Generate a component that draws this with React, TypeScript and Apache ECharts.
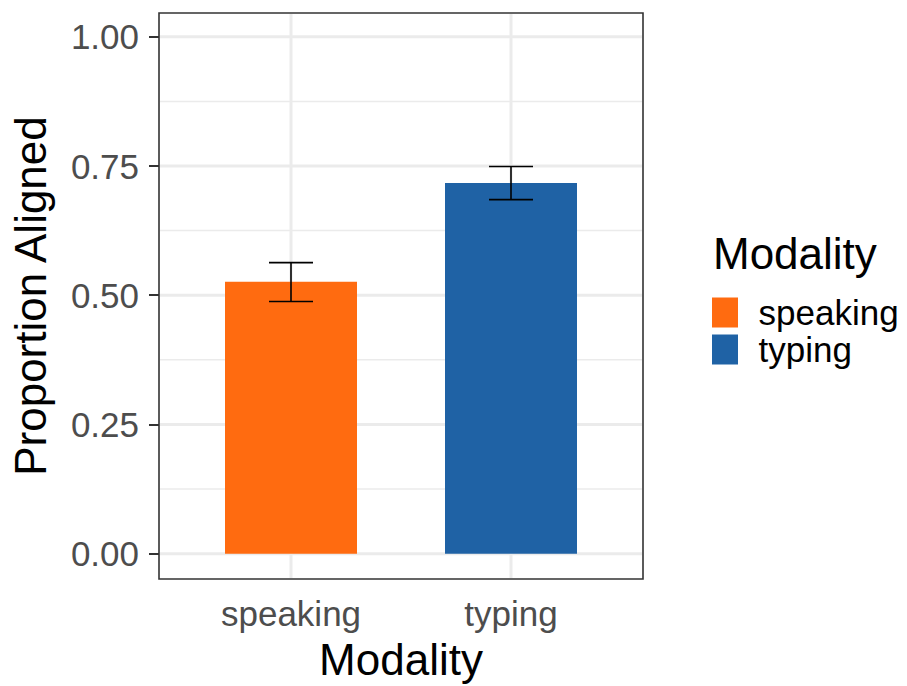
import React, { useEffect, useRef } from "react";
import * as echarts from "echarts";

const categories = ["speaking", "typing"];
const proportions = [0.526, 0.717];
const errLow = [0.488, 0.685];
const errHigh = [0.563, 0.749];
const barColors = ["#FF6B10", "#1F62A5"];
const yTicks = [0, 0.25, 0.5, 0.75, 1];
const yMinor = [0.125, 0.375, 0.625, 0.875];
const xPositions = [1, 2];

const FONT = "'Liberation Sans', Arial, Helvetica, sans-serif";

export default function App() {
  const ref = useRef<HTMLDivElement>(null);
  useEffect(() => {
    const chart = echarts.init(ref.current!, null, { renderer: "svg" });
    const gridData: number[][] = [
      ...yTicks.map((v) => [v, 1, 0]),
      ...yMinor.map((v) => [v, 0, 0]),
      ...xPositions.map((v) => [v, 1, 1]),
    ];
    const barSeries = categories.map((name, i) => ({
      type: "custom",
      name,
      itemStyle: { color: barColors[i] },
      z: 3,
      data: [[xPositions[i], proportions[i], errLow[i], errHigh[i]]],
      renderItem: (params: any, api: any) => {
        const x = api.value(0);
        const v = api.value(1);
        const lo = api.value(2);
        const hi = api.value(3);
        const p0 = api.coord([x - 0.3, 0]);
        const p1 = api.coord([x + 0.3, v]);
        const c = api.coord([x, lo]);
        const h = api.coord([x, hi]);
        const capL = api.coord([x - 0.1, lo])[0];
        const capR = api.coord([x + 0.1, lo])[0];
        const es = { stroke: "#000", lineWidth: 1.6 };
        return {
          type: "group",
          children: [
            {
              type: "rect",
              shape: { x: p0[0], y: p1[1], width: p1[0] - p0[0], height: p0[1] - p1[1] },
              style: { fill: barColors[i] },
            },
            { type: "line", shape: { x1: c[0], y1: c[1], x2: h[0], y2: h[1] }, style: es },
            { type: "line", shape: { x1: capL, y1: c[1], x2: capR, y2: c[1] }, style: es },
            { type: "line", shape: { x1: capL, y1: h[1], x2: capR, y2: h[1] }, style: es },
          ],
        };
      },
    }));
    chart.setOption({
      animation: false,
      title: {
        text: "Modality",
        left: 708,
        top: 226,
        textStyle: { fontSize: 44, fontWeight: "normal", color: "#000", fontFamily: FONT },
      },
      legend: {
        orient: "vertical",
        left: 706,
        top: 290,
        itemWidth: 27,
        itemHeight: 31,
        itemGap: 2,
        icon: "rect",
        data: categories,
        itemStyle: { borderColor: "#fff", borderWidth: 1 },
        textStyle: { fontSize: 35, color: "#000", fontFamily: FONT, padding: [0, 0, 0, 15] },
      },
      grid: {
        left: 157,
        top: 13,
        width: 486,
        height: 567,
        show: true,
        borderColor: "#333333",
        borderWidth: 1.6,
        backgroundColor: "transparent",
      },
      xAxis: {
        type: "value",
        min: 0.4,
        max: 2.6,
        axisLine: { show: false },
        splitLine: { show: false },
        axisTick: {
          show: true,
          customValues: xPositions,
          length: 10,
          lineStyle: { color: "#333", width: 2 },
        },
        axisLabel: {
          customValues: xPositions,
          formatter: (v: number) => categories[Math.round(v) - 1] ?? "",
          fontSize: 35,
          color: "#4D4D4D",
          fontFamily: FONT,
          margin: 17,
        },
        name: "Modality",
        nameLocation: "middle",
        nameGap: 58,
        nameTextStyle: { fontSize: 44, color: "#000", fontFamily: FONT },
      },
      yAxis: {
        type: "value",
        min: -0.049,
        max: 1.046,
        axisLine: { show: false },
        splitLine: { show: false },
        axisTick: {
          show: true,
          customValues: yTicks,
          length: 10,
          lineStyle: { color: "#333", width: 2 },
        },
        axisLabel: {
          customValues: yTicks,
          formatter: (v: number) => v.toFixed(2),
          fontSize: 35,
          color: "#4D4D4D",
          fontFamily: FONT,
          margin: 20,
        },
        name: "Proportion Aligned",
        nameLocation: "middle",
        nameGap: 107,
        nameTextStyle: { fontSize: 44, color: "#000", fontFamily: FONT },
      },
      series: [
        {
          type: "custom",
          name: "grid",
          silent: true,
          z: 1,
          data: gridData,
          renderItem: (params: any, api: any) => {
            const cs = params.coordSys;
            const v = api.value(0);
            const major = api.value(1) === 1;
            const vertical = api.value(2) === 1;
            const style = { stroke: "#EBEBEB", lineWidth: major ? 3 : 1.5 };
            if (vertical) {
              const x = api.coord([v, 0])[0];
              return { type: "line", shape: { x1: x, y1: cs.y + 1, x2: x, y2: cs.y + cs.height - 1 }, style };
            }
            const y = api.coord([1, v])[1];
            return { type: "line", shape: { x1: cs.x + 1, y1: y, x2: cs.x + cs.width - 1, y2: y }, style };
          },
        },
        ...barSeries,
      ],
    });
    return () => chart.dispose();
  }, []);
  return (
    <div
      ref={ref}
      style={{ position: "absolute", left: 0, top: 0, width: 907, height: 686, background: "#fff" }}
    />
  );
}
